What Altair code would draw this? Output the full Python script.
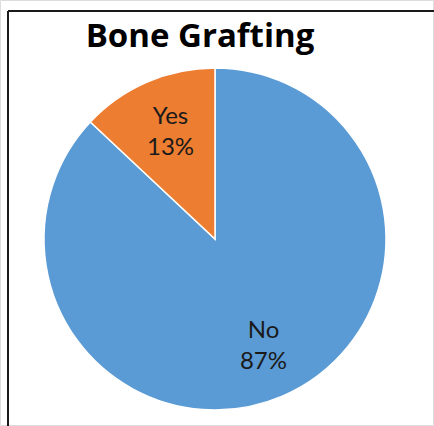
import altair as alt
import pandas as pd

categories = ["No", "Yes"]
values = [87, 13]
pct_labels = ["87%", "13%"]
order = [0, 1]

df = pd.DataFrame({
    "category": categories,
    "value": values,
    "label": [f"{c}\n{p}" for c, p in zip(categories, pct_labels)],
    "order": order,
})

CX, CY, R = 215, 239, 171
FONT = "Lato"

color_scale = alt.Scale(domain=categories, range=["#5B9BD5", "#ED7D31"])

base = alt.Chart(df).encode(
    theta=alt.Theta("value:Q", stack=True),
    order=alt.Order("order:Q"),
)

arcs = base.mark_arc(radius=R, stroke="white", strokeWidth=1.5).encode(
    color=alt.Color("category:N", scale=color_scale, legend=None),
    x=alt.value(CX), y=alt.value(CY),
)

labels = base.mark_text(
    radius=117, fontSize=24, font=FONT, lineBreak="\n", lineHeight=31,
    align="center", baseline="middle", color="#1a1a1a", dy=-15, dx=2,
).encode(
    text="label:N",
    x=alt.value(CX), y=alt.value(CY),
)

title = alt.Chart(pd.DataFrame({"t": ["Bone Grafting"]})).mark_text(
    fontSize=33, fontWeight="bold", font="Open Sans", align="center", baseline="alphabetic", color="#000000"
).encode(text="t:N", x=alt.value(200), y=alt.value(47))

left_border = alt.Chart(pd.DataFrame({"a": [0]})).mark_rule(color="#1a1a1a", strokeWidth=2).encode(
    x=alt.value(8), y=alt.value(11), y2=alt.value(426)
)
top_border = alt.Chart(pd.DataFrame({"a": [0]})).mark_rule(color="#1a1a1a", strokeWidth=2).encode(
    x=alt.value(8), x2=alt.value(434), y=alt.value(11)
)

chart = alt.layer(arcs, labels, title, left_border, top_border).properties(
    width=434, height=426, padding=0,
    autosize=alt.AutoSizeParams(type="fit", contains="padding"),
).configure_view(stroke=None).configure(background="white")

chart.save("out.html", embed_options={"renderer": "svg", "actions": False})
